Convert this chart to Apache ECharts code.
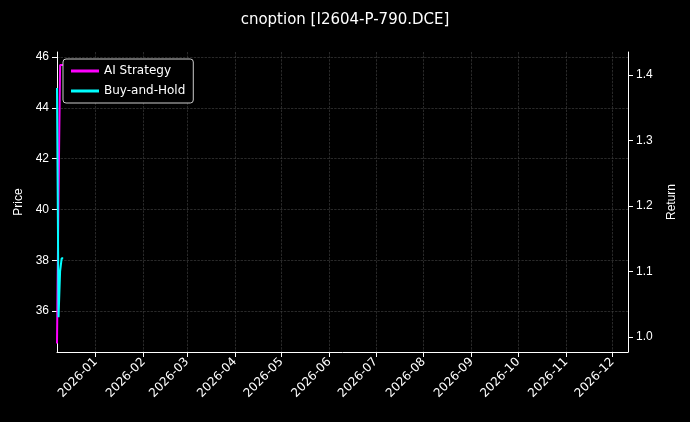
<!DOCTYPE html><html><head><meta charset="utf-8"><script src="https://cdn.jsdelivr.net/npm/echarts@6/dist/echarts.min.js"></script>
<style>html,body{margin:0;background:#000}#c{width:690px;height:422px}</style></head><body><div id="c"></div><script>
const dates=['2025-12-07','2025-12-08','2025-12-09','2025-12-10','2025-12-11'];
const aiReturn=[0.99,1.22,1.415,1.415,1.415];
const bhReturn=[1.38,1.03,1.10,1.12,1.12];
const priceTicks=[36,38,40,42,44,46];
const returnTicks=[1.0,1.1,1.2,1.3,1.4];
const c=echarts.init(document.getElementById('c'));
c.setOption({backgroundColor:'#000',animation:false,
title:{text:'cnoption [I2604-P-790.DCE]',left:'center',top:8,textStyle:{color:'#fff',fontSize:15,fontWeight:'normal',fontFamily:'DejaVu Sans'}},
legend:{left:63,top:59,orient:'vertical',itemWidth:28,itemHeight:3,itemGap:8,borderColor:'#ccc',borderWidth:1,borderRadius:3,padding:[6,8],backgroundColor:'#000',textStyle:{color:'#fff',fontSize:12,fontFamily:'DejaVu Sans'},icon:'rect',data:['AI Strategy','Buy-and-Hold']},
grid:{left:57,right:62,top:52,bottom:70},
xAxis:{type:'time',min:'2025-12-07',max:'2026-12-11',minInterval:28*864e5,maxInterval:31*864e5,
axisLine:{lineStyle:{color:'#fff'}},axisTick:{lineStyle:{color:'#fff'}},
axisLabel:{color:'#fff',rotate:45,fontSize:12,fontFamily:'DejaVu Sans',formatter:'{yyyy}-{MM}',hideOverlap:false},
splitLine:{show:true,lineStyle:{color:'#444',type:'dashed',width:0.6}}},
yAxis:[{type:'value',name:'Price',nameLocation:'middle',nameGap:32,nameTextStyle:{color:'#fff',fontSize:12},min:34.39,max:46.2,
axisLabel:{color:'#fff',fontSize:12,customValues:priceTicks},axisTick:{show:true,customValues:priceTicks,lineStyle:{color:'#fff'}},
axisLine:{show:true,lineStyle:{color:'#fff'}},
splitLine:{show:true,lineStyle:{color:'#444',type:'dashed',width:0.6}}},
{type:'value',name:'Return',nameLocation:'middle',nameGap:38,nameTextStyle:{color:'#fff',fontSize:12},min:0.977,max:1.435,
axisLabel:{color:'#fff',fontSize:12,customValues:returnTicks,formatter:v=>v.toFixed(1)},axisTick:{show:true,customValues:returnTicks,lineStyle:{color:'#fff'}},
axisLine:{show:true,lineStyle:{color:'#fff'}},splitLine:{show:false}}],
series:[{name:'AI Strategy',type:'line',yAxisIndex:1,showSymbol:false,data:dates.map((d,i)=>[d,aiReturn[i]]),lineStyle:{color:'#ff00ff',width:2},itemStyle:{color:'#ff00ff'}},
{name:'Buy-and-Hold',type:'line',yAxisIndex:1,showSymbol:false,data:dates.map((d,i)=>[d,bhReturn[i]]),lineStyle:{color:'#00ffff',width:2},itemStyle:{color:'#00ffff'}}]
});
</script></body></html>
